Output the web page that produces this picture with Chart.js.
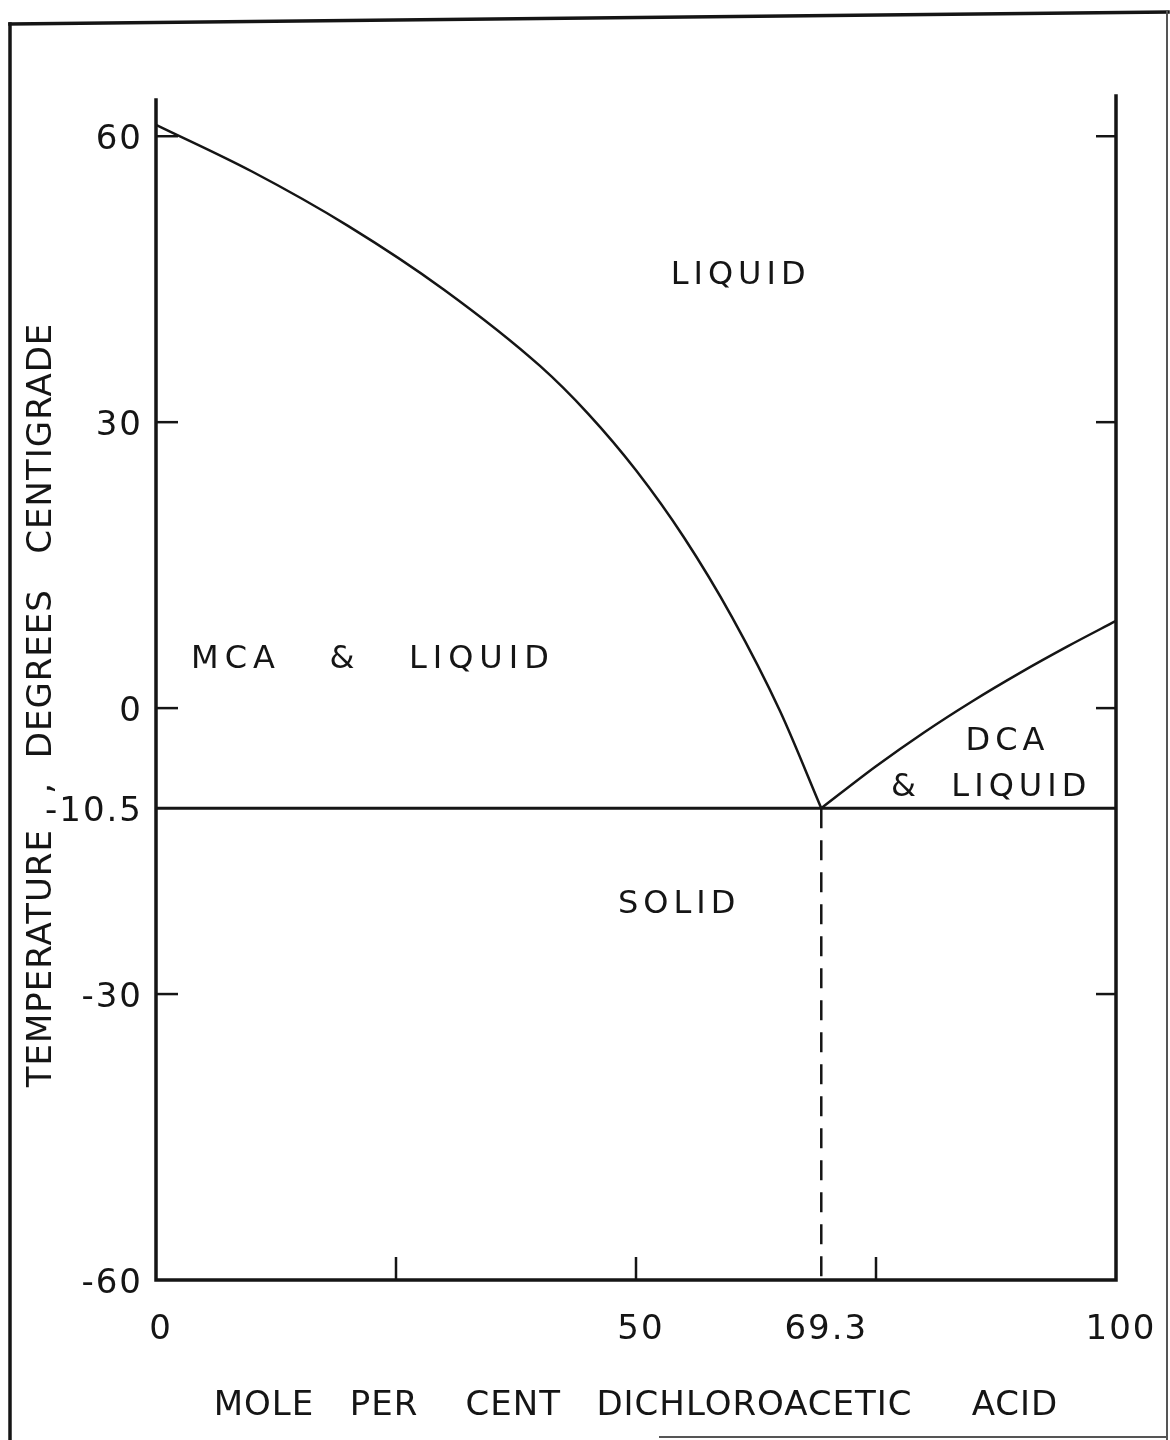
<!DOCTYPE html>
<html>
<head>
<meta charset="utf-8">
<title>MCA - DCA phase diagram</title>
<script src="https://cdn.jsdelivr.net/npm/chart.js@4.4.0/dist/chart.umd.min.js"></script>
<style>
    html, body { margin: 0; padding: 0; background: #fff; }
    #phase { display: block; }
</style>
</head>
<body>
<canvas id="phase" width="1170" height="1440"></canvas>
<script>
// Liquidus of monochloroacetic acid (left branch)
const moleMCA = [0, 10, 20, 30, 40, 45, 50, 55, 60, 65, 69.3];
const tempMCA = [61.2, 56.3, 50.6, 43.9, 35.9, 30.9, 24.95, 17.9, 9.55, -0.3, -10.5];

// Liquidus of dichloroacetic acid (right branch)
const moleDCA = [69.3, 75, 80, 85, 90, 95, 100];
const tempDCA = [-10.5, -6.1, -2.55, 0.7, 3.7, 6.5, 9.15];

// Eutectic point
const eutecticMole = 69.3;
const eutecticTemp = -10.5;

// Axis ticks
const tempTicks = [60, 30, 0, -10.5, -30, -60];
const tempTickLabels = ['60', '30', '0', '-10.5', '-30', '-60'];
const tempTickMarks = [60, 30, 0, -30];
const moleTicks = [0, 50, 69.3, 100];
const moleTickLabels = ['0', '50', '69.3', '100'];
const moleTickMarks = [25, 50, 75];

const regionNames = ['LIQUID', 'MCA   &   LIQUID', 'DCA', '&  LIQUID', 'SOLID'];

const INK = '#151515';
const FONT = '"DejaVu Sans", "Liberation Sans", sans-serif';

function toPoints(xs, ys) {
    return xs.map((x, i) => ({ x: x, y: ys[i] }));
}

// axes, ticks, frame and all lettering
const phaseFrame = {
    id: 'phaseFrame',
    afterDraw(chart) {
        const ctx = chart.ctx;
        const a = chart.chartArea;
        const xs = chart.scales.x;
        const ys = chart.scales.y;

        function line(x1, y1, x2, y2) {
            ctx.beginPath();
            ctx.moveTo(x1, y1);
            ctx.lineTo(x2, y2);
            ctx.stroke();
        }

        ctx.save();
        ctx.strokeStyle = INK;
        ctx.fillStyle = INK;
        ctx.lineCap = 'square';

        // outer border of the sheet
        ctx.lineWidth = 3.5;
        line(10, 1440, 10, 24);
        line(10, 24, 1168, 12);
        ctx.lineWidth = 2;
        ctx.strokeStyle = '#555';
        line(1167, 12, 1167, 1440);
        line(660, 1437, 1167, 1437);
        ctx.strokeStyle = INK;

        // plot box (open at the top)
        ctx.lineWidth = 3.5;
        ctx.beginPath();
        ctx.moveTo(a.left, a.top);
        ctx.lineTo(a.left, a.bottom);
        ctx.lineTo(a.right, a.bottom);
        ctx.lineTo(a.right, a.top - 4);
        ctx.stroke();

        // inward tick marks
        ctx.lineWidth = 2.5;
        ctx.lineCap = 'butt';
        tempTickMarks.forEach(t => {
            const py = ys.getPixelForValue(t);
            line(a.left, py, a.left + 22, py);
            line(a.right - 20, py, a.right, py);
        });
        moleTickMarks.forEach(m => {
            const px = xs.getPixelForValue(m);
            line(px, a.bottom, px, a.bottom - 23);
        });

        // tick labels
        ctx.font = '34px ' + FONT;
        ctx.letterSpacing = '2px';
        ctx.textBaseline = 'alphabetic';
        ctx.textAlign = 'right';
        tempTicks.forEach((t, i) => {
            ctx.fillText(tempTickLabels[i], a.left - 13, ys.getPixelForValue(t) + 13);
        });
        ctx.textAlign = 'center';
        moleTicks.forEach((m, i) => {
            ctx.fillText(moleTickLabels[i], xs.getPixelForValue(m) + 5, a.bottom + 59);
        });

        // axis titles
        ctx.letterSpacing = '1px';
        ctx.fillText('MOLE   PER    CENT   DICHLOROACETIC     ACID', (a.left + a.right) / 2, 1415);
        ctx.save();
        ctx.translate(51, 705);
        ctx.rotate(-Math.PI / 2);
        ctx.fillText('TEMPERATURE   ,  DEGREES   CENTIGRADE', 0, 0);
        ctx.restore();

        // phase region names
        const spots = [[60.9, 45.8], [22.6, 5.5], [88.7, -3.1], [87.0, -8.0], [54.5, -20.2]];
        ctx.font = '32px ' + FONT;
        regionNames.forEach((name, i) => {
            ctx.letterSpacing = i === 1 ? '6px' : '5px';
            ctx.fillText(name, xs.getPixelForValue(spots[i][0]), ys.getPixelForValue(spots[i][1]) + 12);
        });

        ctx.restore();
    }
};

const lineStyle = {
    borderColor: INK,
    borderWidth: 2.5,
    pointRadius: 0,
    fill: false
};

new Chart(document.getElementById('phase').getContext('2d'), {
    type: 'line',
    data: {
        datasets: [
            Object.assign({ data: toPoints(moleMCA, tempMCA), cubicInterpolationMode: 'monotone' }, lineStyle),
            Object.assign({ data: toPoints(moleDCA, tempDCA), cubicInterpolationMode: 'monotone' }, lineStyle),
            Object.assign({ data: [{ x: 0, y: eutecticTemp }, { x: 100, y: eutecticTemp }] }, lineStyle, { borderWidth: 3 }),
            Object.assign({ data: [{ x: eutecticMole, y: eutecticTemp }, { x: eutecticMole, y: -60 }], borderDash: [20, 12] }, lineStyle)
        ]
    },
    options: {
        responsive: false,
        animation: false,
        devicePixelRatio: 1,
        layout: { padding: { left: 156, right: 54, top: 100, bottom: 160 } },
        plugins: {
            legend: { display: false },
            tooltip: { enabled: false }
        },
        scales: {
            x: { type: 'linear', min: 0, max: 100, display: false },
            y: { type: 'linear', min: -60, max: 63.8, display: false }
        }
    },
    plugins: [phaseFrame]
});
</script>
</body>
</html>
